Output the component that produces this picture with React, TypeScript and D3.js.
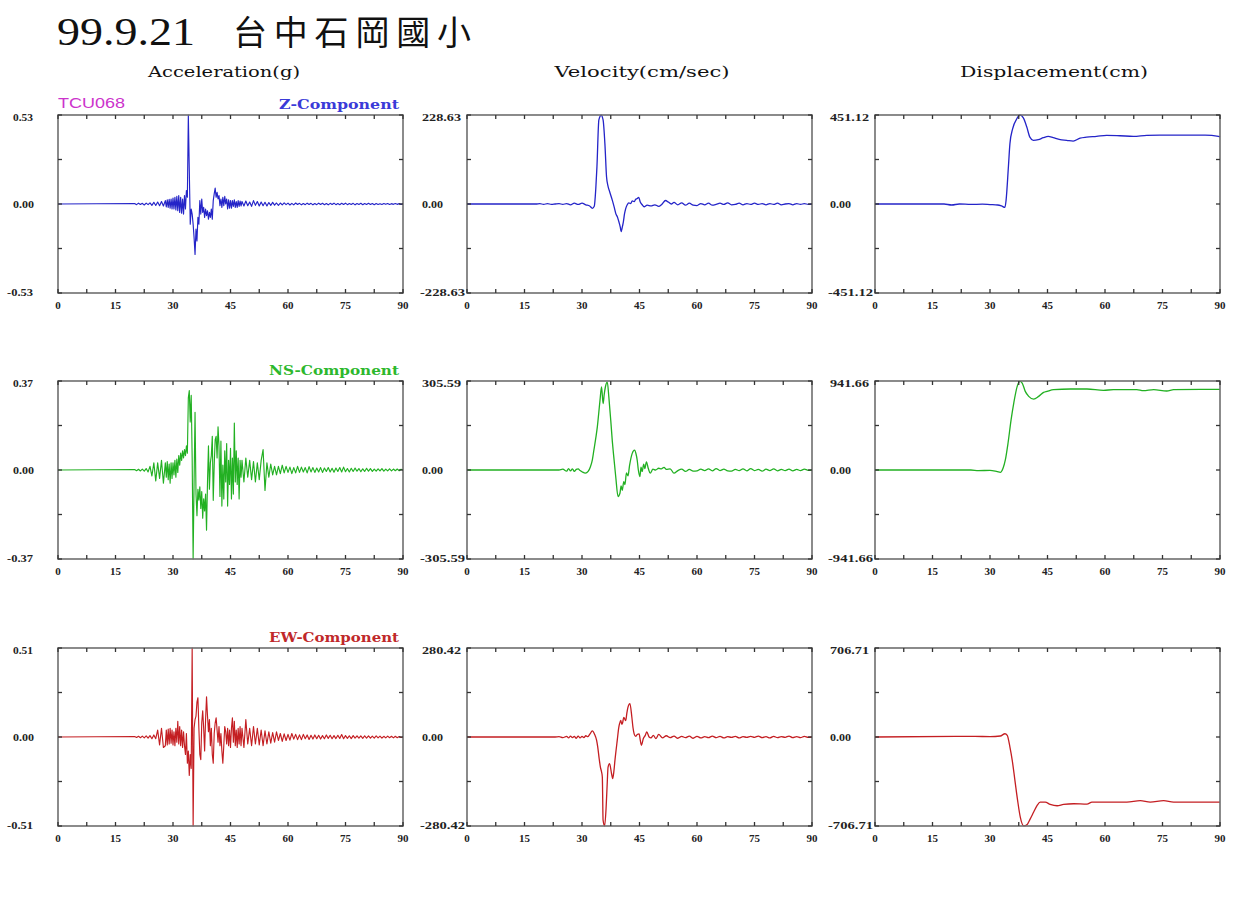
import React from 'react';
import * as d3 from 'd3';

// ---------- DATA ----------
const COLUMN_TITLES = ['Acceleration(g)', 'Velocity(cm/sec)', 'Displacement(cm)'];
const COMPONENTS = ['Z-Component', 'NS-Component', 'EW-Component'];
const STATION = 'TCU068';
const TITLE_DATE = '99.9.21';
const TITLE_PLACE = '台中石岡國小';
const TIME_LABELS = [0, 15, 30, 45, 60, 75, 90];
const TIME_MINOR = [0, 7.5, 15, 22.5, 30, 37.5, 45, 52.5, 60, 67.5, 75, 82.5, 90];

const ACC_PEAKS = [0.53, 0.37, 0.51];
const VEL_PEAKS = [228.63, 305.59, 280.42];
const DISP_PEAKS = [451.12, 941.66, 706.71];

// acceleration samples: quiet lead, then 20–27.5 (0.5 s), 28–47.75 (0.25 s), 48–90 (0.5 s)
const accZ_A = [0.003, -0.004, 0.005, -0.003, 0.004, -0.006, 0.005, -0.004, 0.007, -0.008, 0.01, -0.009, 0.012, -0.01, 0.015, -0.012];
const accZ_B = [
  0.02, -0.018, 0.025, -0.02,
  0.028, -0.025, 0.03, -0.03,
  0.035, -0.03, 0.04, -0.035,
  0.045, -0.04, 0.05, -0.05,
  0.04, -0.055, 0.03, -0.06,
  0.05, -0.03, 0.08, 0.04,
  0.53, 0.2, -0.12, -0.03,
  -0.06, -0.12, -0.2, -0.3,
  -0.15, -0.22, -0.08, -0.12,
  0.02, -0.06, 0.03, -0.05,
  -0.02, -0.08, -0.03, -0.07,
  -0.04, -0.09, -0.05, -0.08,
  -0.03, -0.09, 0.02, 0.06,
  0.095, 0.04, 0.07, 0.03,
  0.05, -0.01, 0.03, -0.02,
  0.04, -0.01, 0.045, 0.0,
  0.03, -0.03, 0.025, -0.025,
  0.02, -0.025, 0.02, -0.015,
  0.025, -0.02, 0.015, -0.02,
  0.02, -0.015, 0.018, -0.012,
];
const accZ_C = [
  0.015, -0.012, 0.018, -0.01, 0.012, -0.014, 0.02, -0.008, 0.015, -0.012,
  0.012, -0.01, 0.01, -0.012, 0.009, -0.008, 0.01, -0.007, 0.006, -0.008,
  0.006, -0.005, 0.007, -0.004, 0.005, -0.006, 0.004, -0.005, 0.006, -0.003,
  0.004, -0.005, 0.003, -0.004, 0.005, -0.003, 0.004, -0.005, 0.003, -0.004,
  0.005, -0.003, 0.004, -0.004, 0.003, -0.005, 0.004, -0.003, 0.005, -0.004,
  0.003, -0.004, 0.004, -0.003, 0.005, -0.004, 0.003, -0.003, 0.004, -0.005,
  0.003, -0.003, 0.004, -0.004, 0.003, -0.003, 0.004, -0.003, 0.003, -0.004,
  0.003, -0.003, 0.002, -0.003, 0.003, -0.002, 0.003, -0.003, 0.002, -0.002,
  0.003, -0.002, 0.002, -0.002, 0.001,
];

const accNS_A = [0.002, -0.003, 0.003, -0.004, 0.004, -0.005, 0.006, -0.008, 0.015, -0.025, 0.03, -0.045, 0.03, -0.035, 0.04, -0.055];
const accNS_B = [
  0.03, -0.03, 0.035, -0.04,
  0.025, -0.055, 0.03, -0.035,
  0.03, -0.02, 0.04, -0.03,
  0.045, -0.01, 0.06, 0.02,
  0.07, 0.04, 0.08, 0.05,
  0.085, 0.06, 0.1, 0.07,
  0.3, 0.33, 0.2, 0.31,
  0.05, -0.37, -0.05, 0.24,
  -0.1, -0.19, -0.08, -0.125,
  -0.07, -0.16, -0.09, -0.2,
  -0.12, -0.17, -0.1, -0.25,
  -0.05, 0.1, -0.08, 0.03,
  0.06, 0.14, -0.126, 0.02,
  0.125, 0.14, 0.05, 0.18,
  0.1, -0.11, 0.12, -0.15,
  0.02, -0.12, 0.08, -0.05,
  0.11, -0.15, 0.04, -0.06,
  0.09, -0.12, 0.05, -0.1,
  0.195, -0.05, 0.08, -0.06,
  0.05, -0.12, 0.04, -0.03,
];
const accNS_C = [
  0.04, -0.05, 0.05, -0.03, 0.04, -0.04, 0.035, -0.05, 0.03, -0.04,
  0.04, 0.085, -0.085, 0.03, -0.03, 0.025, -0.02, 0.015, -0.02, 0.015,
  -0.015, 0.02, -0.012, 0.015, -0.01, 0.012, -0.015, 0.01, -0.012, 0.015,
  -0.01, 0.012, -0.008, 0.01, -0.012, 0.014, -0.008, 0.01, -0.01, 0.008,
  -0.008, 0.01, -0.01, 0.008, -0.006, 0.01, -0.008, 0.007, -0.009, 0.008,
  -0.006, 0.01, -0.008, 0.012, -0.007, 0.006, -0.008, 0.007, -0.006, 0.008,
  -0.005, 0.006, -0.007, 0.005, -0.006, 0.007, -0.005, 0.006, -0.006, 0.004,
  -0.005, 0.005, -0.004, 0.006, -0.005, 0.004, -0.004, 0.005, -0.004, 0.004,
  -0.003, 0.004, -0.003, 0.003, 0.0,
];

const accEW_A = [0.003, -0.003, 0.004, -0.004, 0.005, -0.005, 0.006, -0.006, 0.008, -0.01, 0.012, -0.01, 0.04, -0.045, 0.05, -0.06];
const accEW_B = [
  -0.05, 0.04, -0.045, 0.045,
  -0.04, 0.05, -0.035, 0.04,
  -0.045, 0.03, -0.05, 0.05,
  -0.03, 0.09, -0.04, 0.06,
  -0.05, 0.04, -0.06, 0.03,
  -0.05, -0.1, 0.02, -0.15,
  -0.08, -0.22, -0.1, -0.18,
  0.51, -0.51, 0.05, 0.1,
  0.12, 0.2, 0.225, 0.05,
  -0.1, -0.13, 0.08, 0.15,
  0.05, -0.08, 0.1, 0.23,
  0.12, 0.03, 0.1, -0.05,
  0.05, -0.1, -0.15, 0.02,
  0.08, 0.11, 0.04, -0.03,
  0.06, -0.05, 0.02, -0.08,
  -0.15, -0.05, 0.06, 0.03,
  -0.04, 0.05, -0.05, 0.04,
  -0.06, 0.05, 0.11, -0.03,
  0.09, -0.05, 0.04, -0.06,
  0.05, -0.04, 0.06, -0.05,
];
const accEW_C = [
  0.05, -0.06, 0.1, -0.04, 0.05, -0.05, 0.06, -0.04, 0.05, -0.045,
  0.04, -0.05, 0.035, -0.04, 0.03, -0.035, 0.025, -0.03, 0.03, -0.02,
  0.02, -0.025, 0.018, -0.02, 0.015, -0.018, 0.02, -0.012, 0.015, -0.015,
  0.012, -0.015, 0.015, -0.01, 0.012, -0.014, 0.01, -0.012, 0.012, -0.01,
  0.01, -0.012, 0.008, -0.01, 0.012, -0.008, 0.01, -0.01, 0.008, -0.009,
  0.01, -0.008, 0.014, -0.01, 0.008, -0.008, 0.007, -0.009, 0.008, -0.006,
  0.007, -0.007, 0.006, -0.008, 0.007, -0.006, 0.006, -0.007, 0.005, -0.006,
  0.006, -0.005, 0.005, -0.006, 0.004, -0.005, 0.005, -0.004, 0.004, -0.005,
  0.004, -0.004, 0.003, -0.003, 0.0,
];

// velocity (cm/sec): [time, value]
const velZ: [number, number][] = [
  [0, 0], [18, 0], [19, 1], [20, -1], [21, 1], [22, -1], [23, 0], [24, 1], [25, -1], [26, 1], [27, -2], [28, 2], [29, -1], [30, 2], [31, -2], [32, -5],
  [32.7, -11], [33.2, -6], [33.6, 40], [33.9, 96], [34.4, 216], [35.0, 228], [35.5, 216], [36.0, 150], [36.4, 70], [36.8, 45], [37.2, 32], [37.9, 10],
  [38.4, -8], [38.8, -24], [39.3, -35], [39.6, -45], [40.0, -60], [40.2, -71], [40.5, -60], [40.8, -45], [41.1, -25], [41.4, -12], [41.8, -2], [42.2, 3],
  [42.7, 1], [43.1, 8], [43.6, 6], [44.0, 12], [44.4, 14], [44.8, 17], [45.2, 5], [45.7, -2], [46.2, -7], [47, -3], [48, -5], [49, -2], [50, -6],
  [50.8, -1], [51.8, 9], [52.5, 5], [53.3, 0], [54, 4], [55, -2], [56, 3], [57, -3], [58, 2], [59, -3], [60, -4], [61, 1], [62, -2], [63, 2], [64, -3],
  [65, -1], [66, 2], [67, -1], [68, 3], [69, -2], [70, -1], [71, 2], [72, -2], [73, 1], [74, -1], [75, 2], [76, -1], [77, 1], [78, -2], [79, 1], [80, -1],
  [81, 2], [82, -2], [83, 0], [84, 1], [85, -2], [86, 1], [87, -1], [88, 1], [89, -1], [90, 0],
];
const velNS: [number, number][] = [
  [0, 0], [24, 0], [25, 3], [26, -4], [26.5, 5], [27, -3], [27.5, 4], [28, -5], [28.5, 2], [29, 4], [29.5, -2], [30, -6], [30.9, -11], [31.6, -5],
  [32.2, 11], [32.7, 35], [33.1, 68], [33.6, 110], [34, 148], [34.4, 200], [34.7, 240], [35.1, 285], [35.5, 228], [35.8, 260], [36.1, 285], [36.6, 302],
  [37.0, 251], [37.5, 171], [37.9, 100], [38.2, 57], [38.8, -23], [39.4, -91], [39.9, -80], [40.2, -55], [40.5, -70], [40.9, -40], [41.2, -50],
  [41.6, -10], [42.0, -20], [42.4, 15], [43.1, 57], [43.7, 68], [44.1, 55], [44.4, 34], [44.7, 0], [45.1, -23], [45.4, 10], [45.7, -5], [46.1, 20],
  [46.4, 5], [46.8, 28], [47.3, 5], [47.8, -11], [48.5, 3], [49.2, 0], [50, 6], [50.7, 4], [51.4, 9], [52, 2], [53, 4], [54, -11], [55, -2], [56, 3],
  [57, -5], [58, 2], [59, -4], [60, -3], [61, 3], [62, -2], [63, 4], [64, -3], [65, 5], [66, -2], [67, 3], [68, -3], [69, -4], [70, 2], [71, -2], [72, 4],
  [73, -3], [74, 5], [75, -2], [76, 2], [77, -4], [78, 3], [79, -2], [80, 4], [81, -3], [82, 2], [83, -2], [84, 3], [85, -3], [86, 2], [87, -2], [88, 3],
  [89, -1], [90, 0],
];
const velEW: [number, number][] = [
  [0, 0], [23, 0], [24, 1], [25, -2], [26, 2], [26.5, -3], [27, 3], [27.5, -2], [28, 2], [28.5, -4], [29, 3], [29.5, -3], [30, 2], [30.5, -2], [31, 4],
  [31.5, 1], [32, 8], [32.7, 19], [33.3, 8], [33.8, -10], [34.1, -31], [34.5, -70], [34.8, -95], [35.1, -110], [35.3, -126], [35.5, -262], [35.9, -280],
  [36.3, -220], [36.6, -140], [36.8, -95], [37.2, -84], [37.7, -115], [38.0, -131], [38.3, -110], [38.6, -73], [39.2, -10], [39.6, 30], [39.8, 42],
  [40.1, 52], [40.4, 40], [40.6, 45], [40.9, 62], [41.4, 52], [41.7, 75], [42.0, 94], [42.5, 105], [43.0, 63], [43.3, 30], [43.6, 10], [44.0, 2],
  [44.4, 8], [44.9, 10], [45.2, -10], [45.5, -26], [46, -5], [46.5, 5], [46.9, 16], [47.5, 0], [48, -3], [48.6, 5], [49.3, -5], [50, 8], [51, -3],
  [52, 4], [53, -2], [54, 3], [55, -4], [56, 2], [57, -2], [58, 3], [59, -4], [60, 2], [61, -3], [62, 1], [63, -2], [64, 3], [65, -2], [66, 2], [67, -3],
  [68, 1], [69, -1], [70, 2], [71, -3], [72, 1], [73, -1], [74, 2], [75, -1], [76, 3], [77, -2], [78, 1], [79, -3], [80, 2], [81, -2], [82, 1], [83, -1],
  [84, 3], [85, -2], [86, 1], [87, -2], [88, 2], [89, -1], [90, 0],
];

// displacement (cm): [time, value]
const dispZ: [number, number][] = [
  [0, 0], [18, 0], [20, -5], [22, 0], [25, -2], [28, -1], [30, -3], [32, -5], [33, -10], [33.9, -17], [34.2, 20], [34.8, 188], [35.2, 306],
  [35.9, 381], [37, 432], [37.8, 451], [38.7, 437], [39.6, 390], [40.4, 339], [41.3, 323], [42.6, 326], [43.9, 336], [45.2, 343], [46.5, 336],
  [48.3, 326], [50, 323], [51.7, 319], [53.5, 334], [55.2, 339], [57.8, 343], [60.4, 348], [63.9, 346], [67.4, 343], [70.9, 348], [74.3, 349],
  [78, 349], [81.8, 349], [86.1, 349], [89.6, 343], [90, 340],
];
const dispNS: [number, number][] = [
  [0, 0], [25, 0], [27, -7], [30, -4], [31.9, -18], [32.7, -25], [33.4, 18], [34, 106], [34.7, 283], [35.5, 531], [36.2, 708], [37.1, 885],
  [37.8, 938], [38.4, 920], [39.2, 832], [40.1, 779], [41.4, 750], [42.7, 779], [44, 821], [44.9, 832], [46.6, 850], [51, 857], [55.3, 857],
  [59.6, 843], [62.2, 850], [68.3, 850], [70, 839], [72.7, 850], [76.1, 836], [77.9, 850], [85, 853], [90, 853],
];
const dispEW: [number, number][] = [
  [0, 0], [26, 5], [30, 3], [32.7, 8], [33.9, 26], [34.5, 13], [35.2, -80], [35.8, -185], [36.5, -344], [37.2, -503], [37.9, -636], [38.8, -706],
  [39.7, -694], [40.5, -650], [41.4, -596], [42.3, -543], [43.1, -517], [44.4, -517], [45.7, -535], [47.5, -546], [49.2, -535], [51.8, -530],
  [55.3, -533], [56.6, -517], [60.5, -517], [65.7, -517], [69.2, -506], [71.8, -517], [75.3, -506], [77.9, -517], [81.3, -517], [90, -517],
];

// ---------- helpers ----------
function sampled(t0: number, dt: number, vals: number[]): [number, number][] {
  return vals.map((v, i) => [t0 + i * dt, v] as [number, number]);
}
function accSeries(a: number[], b: number[], c: number[]): [number, number][] {
  return [[0, 0] as [number, number], ...sampled(20, 0.5, a), ...sampled(28, 0.25, b), ...sampled(48, 0.5, c)];
}

const ROW_COLORS = ['#2424c8', '#22b022', '#c41e22'];
const LABEL_COLORS = ['#3a3ad8', '#2db82d', '#c0282a'];

const SERIES: [number, number][][][] = [
  [accSeries(accZ_A, accZ_B, accZ_C), velZ, dispZ],
  [accSeries(accNS_A, accNS_B, accNS_C), velNS, dispNS],
  [accSeries(accEW_A, accEW_B, accEW_C), velEW, dispEW],
];
const PEAKS = [ACC_PEAKS, VEL_PEAKS, DISP_PEAKS];

// ---------- layout ----------
const COL_LEFT = [58, 467, 875];
const PANEL_W = 345;
const ROW_TOP = [115, 381, 648];
const PANEL_H = 178;
const TITLE_X = [224, 642, 1054];
const TITLE_W = [152, 175, 188];

const tickFont = '"Liberation Serif", "DejaVu Serif", serif';

function Panel({ row, col }: { row: number; col: number }) {
  const left = COL_LEFT[col];
  const top = ROW_TOP[row];
  const peak = PEAKS[col][row];
  const x = d3.scaleLinear().domain([0, 90]).range([left, left + PANEL_W]);
  const y = d3.scaleLinear().domain([-peak, peak]).range([top + PANEL_H, top]);
  const line = d3
    .line<[number, number]>()
    .x((d) => x(d[0]))
    .y((d) => y(d[1]))
    .curve(col === 0 ? d3.curveLinear : d3.curveMonotoneX);
  const data = SERIES[row][col];
  const yTicks = [-peak, -peak / 2, 0, peak / 2, peak];
  const fmt = (v: number) => (v < 0 ? '-' : '') + Math.abs(v).toFixed(2);
  const bottom = top + PANEL_H;
  const right = left + PANEL_W;
  const labelW = (v: number) => {
    if (v === 0) return 21;
    const base = col === 0 ? 20 : 39;
    return v < 0 ? base + 6 : base;
  };
  const labelX = (v: number) => (v < 0 ? left - (col === 0 ? 51 : 47) : left - 45);
  return (
    <g>
      <path d={line(data) || ''} fill="none" stroke={ROW_COLORS[row]} strokeWidth={col === 0 ? 1.15 : 1.3} strokeLinejoin="round" />
      <rect x={left} y={top} width={PANEL_W} height={PANEL_H} fill="none" stroke="#6e6e6e" strokeWidth={1.6} />
      {TIME_MINOR.map((t) => (
        <g key={'xt' + t}>
          <line x1={x(t)} x2={x(t)} y1={top} y2={top + 4} stroke="#333" strokeWidth={1.3} />
          <line x1={x(t)} x2={x(t)} y1={bottom} y2={bottom - 4} stroke="#333" strokeWidth={1.3} />
        </g>
      ))}
      {yTicks.map((v, i) => (
        <g key={'yt' + i}>
          <line x1={left} x2={left + 4} y1={y(v)} y2={y(v)} stroke="#333" strokeWidth={1.3} />
          <line x1={right} x2={right - 4} y1={y(v)} y2={y(v)} stroke="#333" strokeWidth={1.3} />
        </g>
      ))}
      {TIME_LABELS.map((t) => (
        <text key={'xl' + t} x={x(t)} y={bottom + 16} textAnchor="middle" fontFamily={tickFont} fontWeight="bold" fontSize={11} fill="#222">
          {t}
        </text>
      ))}
      {[peak, 0, -peak].map((v, i) => (
        <text
          key={'yl' + i}
          x={labelX(v)}
          y={y(v) + (v > 0 ? 6 : v < 0 ? 3 : 3.5)}
          fontFamily={tickFont}
          fontWeight="bold"
          fontSize={10}
          fill="#222"
          textLength={labelW(v)}
          lengthAdjust="spacingAndGlyphs"
        >
          {fmt(v)}
        </text>
      ))}
    </g>
  );
}

export default function App() {
  return (
    <svg
      width={1233}
      height={914}
      viewBox="0 0 1233 914"
      style={{ position: 'absolute', left: 0, top: 0, background: '#fff', display: 'block' }}
    >
      <rect x={0} y={0} width={1233} height={914} fill="#fff" />
      <text x={57} y={45} fontFamily='"Liberation Serif", "DejaVu Serif", serif' fontSize={40} fill="#111" textLength={138} lengthAdjust="spacingAndGlyphs">
        {TITLE_DATE}
      </text>
      <text x={233} y={45} fontFamily='"Noto Sans CJK TC", "Noto Sans CJK SC", sans-serif' fontSize={34} fill="#111" textLength={238} lengthAdjust="spacing">
        {TITLE_PLACE}
      </text>
      {COLUMN_TITLES.map((t, i) => (
        <text
          key={t}
          x={TITLE_X[i]}
          y={77}
          textAnchor="middle"
          fontFamily='"DejaVu Serif", "Liberation Serif", serif'
          fontSize={15}
          fill="#111"
          textLength={TITLE_W[i]}
          lengthAdjust="spacingAndGlyphs"
        >
          {t}
        </text>
      ))}
      <text x={58} y={108} fontFamily='"Liberation Sans", Arial, sans-serif' fontSize={14} fill="#cc33cc" textLength={67} lengthAdjust="spacingAndGlyphs">
        {STATION}
      </text>
      {COMPONENTS.map((c, r) => (
        <text
          key={c}
          x={399}
          y={ROW_TOP[r] - 6}
          textAnchor="end"
          fontFamily='"DejaVu Serif", "Liberation Serif", serif'
          fontWeight="bold"
          fontSize={12.5}
          fill={LABEL_COLORS[r]}
          textLength={r === 0 ? 120 : 130}
          lengthAdjust="spacingAndGlyphs"
        >
          {c}
        </text>
      ))}
      {[0, 1, 2].map((r) => [0, 1, 2].map((c) => <Panel key={r + '-' + c} row={r} col={c} />))}
    </svg>
  );
}
